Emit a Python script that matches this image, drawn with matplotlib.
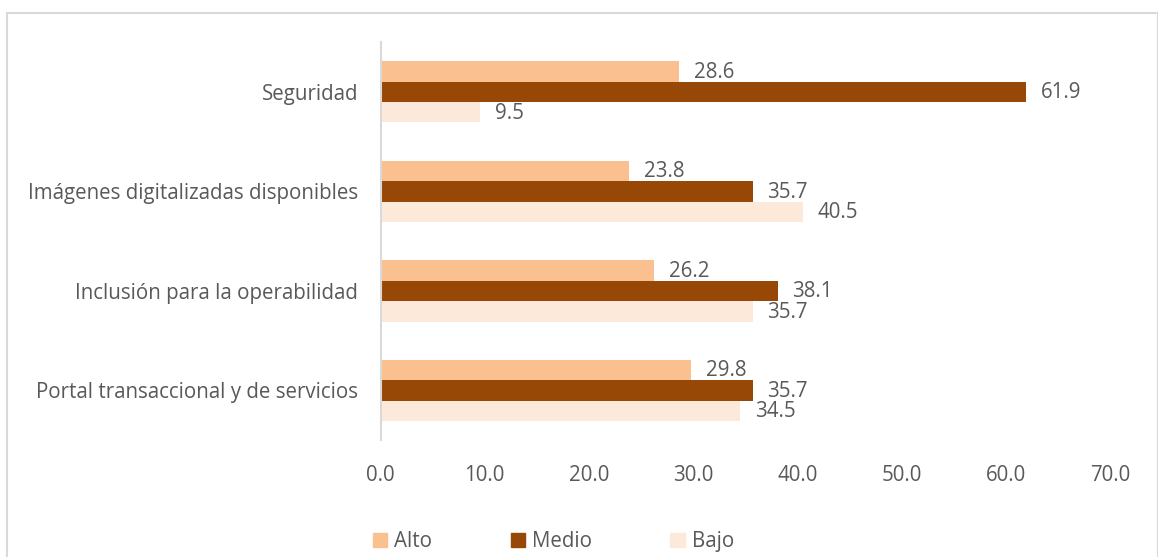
import numpy as np
import matplotlib
matplotlib.use("Agg")
import matplotlib.pyplot as plt
from matplotlib.patches import Rectangle, Patch

categories = [
    "Seguridad",
    "Imágenes digitalizadas disponibles",
    "Inclusión para la operabilidad",
    "Portal transaccional y de servicios",
]
alto = [28.6, 23.8, 26.2, 29.8]
medio = [61.9, 35.7, 38.1, 35.7]
bajo = [9.5, 40.5, 35.7, 34.5]
series_names = ["Alto", "Medio", "Bajo"]
x_ticks = [0, 10, 20, 30, 40, 50, 60, 70]

colors = ["#FAC090", "#974706", "#FDE9D9"]
text_color = "#595959"
fs = 14.8

plt.rcParams["font.family"] = ["Open Sans", "DejaVu Sans"]

fig = plt.figure(figsize=(11.58, 5.57), dpi=100)
ax = fig.add_axes([0.3286, 0.210, 0.9585 - 0.3286, 0.9246 - 0.210])

# first category on top
y = np.arange(len(categories))[::-1]
h = 0.206
offsets = [h, 0, -h]

for vals, off, col, name in zip([alto, medio, bajo], offsets, colors, series_names):
    bars = ax.barh(y + off, vals, height=h, color=col, label=name)
    for b, v in zip(bars, vals):
        ax.annotate(f"{v:.1f}", (v, b.get_y() + b.get_height() / 2),
                    xytext=(15, -1), textcoords="offset pixels",
                    ha="left", va="center", fontsize=fs, color=text_color)

ax.set_xlim(0, 70)
ax.set_ylim(-0.5, len(categories) - 0.5)
ax.set_xticks(x_ticks)
ax.set_xticklabels([f"{t:.1f}" for t in x_ticks])
ax.set_yticks(y)
ax.set_yticklabels(categories)
ax.tick_params(axis="both", length=0, labelsize=fs, labelcolor=text_color)
ax.tick_params(axis="y", pad=16)
ax.tick_params(axis="x", pad=18)

for s in ["top", "right", "bottom"]:
    ax.spines[s].set_visible(False)
ax.spines["left"].set_color("#D9D9D9")
ax.spines["left"].set_linewidth(1.5)

handles = [Patch(color=c, label=n) for c, n in zip(colors, series_names)]
fig.legend(handles=handles, loc="center", bbox_to_anchor=(0.478, 0.027),
           ncol=3, frameon=False, fontsize=fs, labelcolor=text_color,
           handlelength=0.7, handleheight=0.7, handletextpad=0.35,
           columnspacing=3.8)

# chart area border
fig.patches.append(Rectangle((6.5 / 1158, -0.1), (1157.5 - 6.5) / 1158, 1.1 - 13 / 557,
                             transform=fig.transFigure, fill=False,
                             edgecolor="#D9D9D9", linewidth=1.5))

fig.savefig("out.png", dpi=100)
